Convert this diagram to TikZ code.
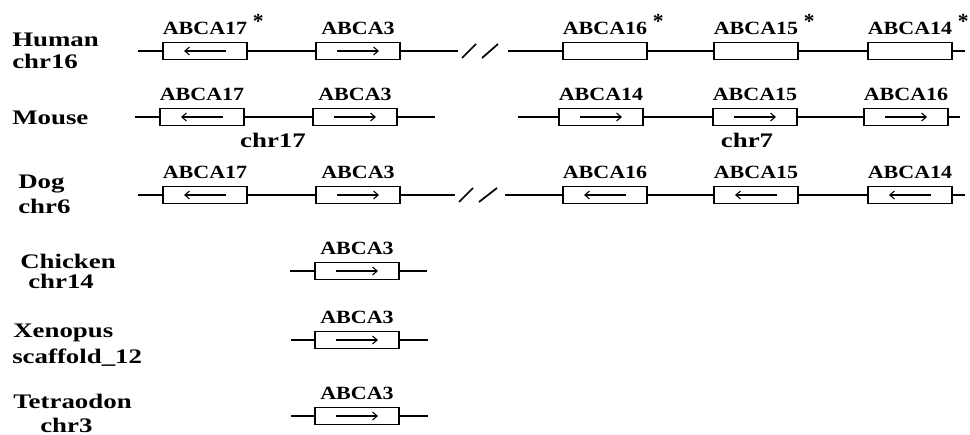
\documentclass[tikz,border=0pt]{standalone}
\usepackage{graphicx}
\usepackage{fontspec}
\setmainfont{Liberation Serif}
\usetikzlibrary{arrows.meta}

% bold serif text, widened horizontally
\newcommand{\wide}[1]{\scalebox{1.18}[1]{#1}}
\newcommand{\wider}[1]{\scalebox{1.3}[1]{#1}}
\newcommand{\starred}[1]{\wide{#1}\rlap{\hspace{0.3em}\raisebox{0.32em}{\scalebox{1.15}{*}}}}

\tikzset{
  chrom/.style={line width=1.5pt},
  gene/.style={draw, line width=0.9pt, fill=white, minimum width=63pt,
    minimum height=12.75pt, inner sep=0pt},
  garrow/.style={line width=0.8pt, -{Straight Barb[length=3.5pt,width=6pt]}},
  fwd/.style={gene, path picture={
    \draw[garrow] ([xshift=-15.75pt]path picture bounding box.center)
      -- ([xshift=15.75pt]path picture bounding box.center);}},
  rev/.style={gene, path picture={
    \draw[garrow] ([xshift=15.75pt]path picture bounding box.center)
      -- ([xshift=-15.75pt]path picture bounding box.center);}},
  glabel/.style={inner sep=0pt, anchor=south, font=\bfseries\fontsize{14pt}{15pt}\selectfont},
  gl/.style={label={[glabel, label distance=5.2pt]above:#1}},
  species/.style={inner sep=0pt, anchor=base west, font=\bfseries\fontsize{15.5pt}{17pt}\selectfont},
  chrname/.style={inner sep=0pt, anchor=base, font=\bfseries\fontsize{15.5pt}{17pt}\selectfont},
  brk/.style={line width=1.3pt}
}

\begin{document}
\begin{tikzpicture}[x=0.75pt, y=-0.75pt]
\useasboundingbox (0,0) rectangle (970,435);

% ---------- Human chr16 ----------
\node[species] (hs) at (12,47) {\wider{Human}};
\node[species] (hc) at (12,69) {\wider{chr16}};
\coordinate (hA) at (138,51);
\coordinate (hB) at (458,51);
\coordinate (hC) at (508,51);
\coordinate (hD) at (965,51);
\node[rev, gl={\starred{ABCA17}}] (h17) at (205,51) {};
\node[fwd, gl={\wide{ABCA3}}] (h3) at (358,51) {};
\node[gene, gl={\starred{ABCA16}}] (h16) at (605,51) {};
\node[gene, gl={\starred{ABCA15}}] (h15) at (756,51) {};
\node[gene, gl={\starred{ABCA14}}] (h14) at (910,51) {};
\draw[chrom] (hA) -- (h17) (h17) -- (h3) (h3) -- (hB);
\draw[chrom] (hC) -- (h16) (h16) -- (h15) (h15) -- (h14) (h14) -- (hD);
\draw[brk] (462,58) -- (476,44) (482,58) -- (498,44);

% ---------- Mouse chr17 / chr7 ----------
\node[species] (ms) at (12,124) {\wider{Mouse}};
\coordinate (mA) at (135,117);
\coordinate (mB) at (435,117);
\coordinate (mC) at (518,117);
\coordinate (mD) at (960,117);
\node[rev, gl={\wide{ABCA17}}] (m17) at (202,117) {};
\node[fwd, gl={\wide{ABCA3}}] (m3) at (355,117) {};
\node[fwd, gl={\wide{ABCA14}}] (m14) at (601,117) {};
\node[fwd, gl={\wide{ABCA15}}] (m15) at (755,117) {};
\node[fwd, gl={\wide{ABCA16}}] (m16) at (906,117) {};
\draw[chrom] (mA) -- (m17) (m17) -- (m3) (m3) -- (mB);
\draw[chrom] (mC) -- (m14) (m14) -- (m15) (m15) -- (m16) (m16) -- (mD);
\node[chrname] (mc17) at (273,147) {\wider{chr17}};
\node[chrname] (mc7) at (747,147) {\wider{chr7}};

% ---------- Dog chr6 ----------
\node[species] (ds) at (18,188) {\wider{Dog}};
\node[species] (dc) at (18,213) {\wider{chr6}};
\coordinate (dA) at (138,195);
\coordinate (dB) at (455,195);
\coordinate (dC) at (505,195);
\coordinate (dD) at (965,195);
\node[rev, gl={\wide{ABCA17}}] (d17) at (205,195) {};
\node[fwd, gl={\wide{ABCA3}}] (d3) at (358,195) {};
\node[rev, gl={\wide{ABCA16}}] (d16) at (605,195) {};
\node[rev, gl={\wide{ABCA15}}] (d15) at (756,195) {};
\node[rev, gl={\wide{ABCA14}}] (d14) at (910,195) {};
\draw[chrom] (dA) -- (d17) (d17) -- (d3) (d3) -- (dB);
\draw[chrom] (dC) -- (d16) (d16) -- (d15) (d15) -- (d14) (d14) -- (dD);
\draw[brk] (459,202) -- (473,188) (479,202) -- (497,188);

% ---------- Chicken chr14 ----------
\node[species] (cs) at (20,268) {\wider{Chicken}};
\node[species] (cc) at (28,288) {\wider{chr14}};
\coordinate (cA) at (290,271);
\coordinate (cB) at (427,271);
\node[fwd, gl={\wide{ABCA3}}] (c3) at (357,271) {};
\draw[chrom] (cA) -- (c3) (c3) -- (cB);

% ---------- Xenopus scaffold_12 ----------
\node[species] (xs) at (13,337) {\wider{Xenopus}};
\node[species] (xc) at (12,363) {\wider{scaffold\_12}};
\coordinate (xA) at (291,340);
\coordinate (xB) at (428,340);
\node[fwd, gl={\wide{ABCA3}}] (x3) at (357,340) {};
\draw[chrom] (xA) -- (x3) (x3) -- (xB);

% ---------- Tetraodon chr3 ----------
\node[species] (ts) at (13,408) {\wider{Tetraodon}};
\node[species] (tc) at (40,432) {\wider{chr3}};
\coordinate (tA) at (291,416);
\coordinate (tB) at (428,416);
\node[fwd, gl={\wide{ABCA3}}] (t3) at (357,416) {};
\draw[chrom] (tA) -- (t3) (t3) -- (tB);
\end{tikzpicture}
\end{document}
